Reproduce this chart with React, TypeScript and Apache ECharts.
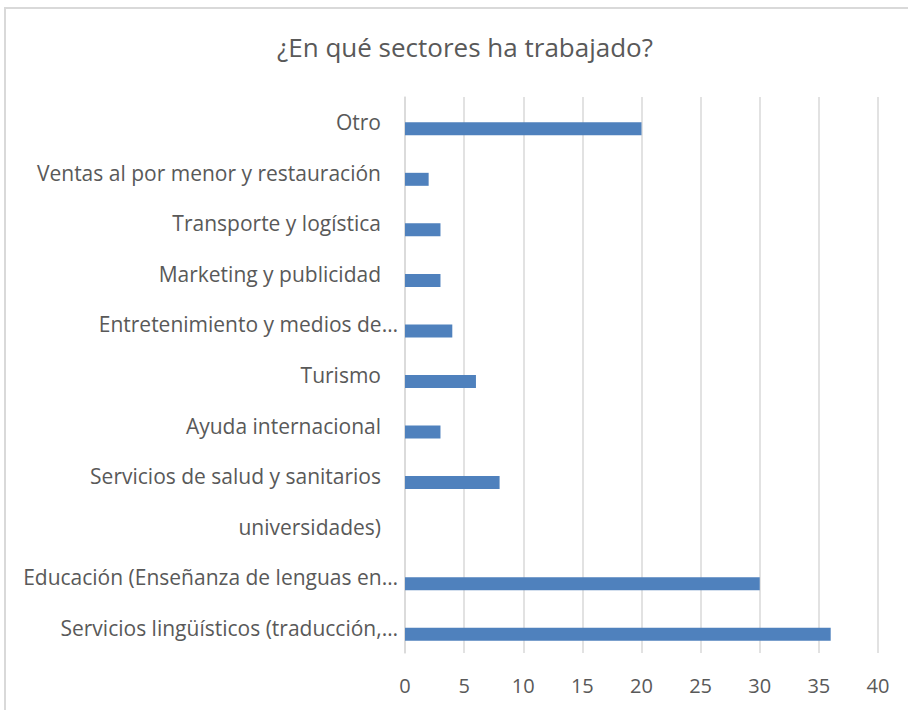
import React, { useEffect, useRef } from "react";
import * as echarts from "echarts";

const title = "¿En qué sectores ha trabajado?";
const categories = [
  "Servicios lingüísticos (traducción,…",
  "Educación (Enseñanza de lenguas en…",
  "universidades)",
  "Servicios de salud y sanitarios",
  "Ayuda internacional",
  "Turismo",
  "Entretenimiento y medios de…",
  "Marketing y publicidad",
  "Transporte y logística",
  "Ventas al por menor y restauración",
  "Otro",
];
const values = [36, 30, 0, 8, 3, 6, 4, 3, 3, 2, 20];
const emptySeries = [null, null, null, null, null, null, null, null, null, null, null];
const xTicks = { min: 0, max: 40, interval: 5 };

const FONT = "Open Sans";
const TEXT = "#595959";
const GRID = "#d9d9d9";

export default function App() {
  const ref = useRef<HTMLDivElement>(null);
  useEffect(() => {
    const chart = echarts.init(ref.current!, null, { renderer: "svg" });
    chart.setOption({
      animation: false,
      backgroundColor: "#ffffff",
      graphic: [
        {
          type: "rect",
          shape: { x: 5, y: 8, width: 940, height: 740 },
          style: { fill: "none", stroke: GRID, lineWidth: 2 },
          silent: true,
        },
        {
          type: "text",
          x: 465,
          y: 47,
          style: {
            text: title,
            fontFamily: FONT,
            fontSize: 26,
            fill: TEXT,
            align: "center",
            verticalAlign: "middle",
          },
          silent: true,
        },
      ],
      grid: { left: 405, right: 30, top: 97, bottom: 57, containLabel: false },
      xAxis: {
        type: "value",
        min: xTicks.min,
        max: xTicks.max,
        interval: xTicks.interval,
        axisLine: { show: false },
        axisTick: { show: false },
        splitLine: { show: true, lineStyle: { color: GRID, width: 1.5 } },
        axisLabel: { fontFamily: FONT, fontSize: 20, color: TEXT, margin: 22 },
      },
      yAxis: {
        type: "category",
        data: categories,
        axisLine: { show: true, lineStyle: { color: GRID, width: 1.5 } },
        axisTick: { show: false },
        axisLabel: {
          fontFamily: FONT,
          fontSize: 21,
          color: TEXT,
          margin: 7,
          formatter: (v: string) => (v.endsWith("…") ? `{b|${v}}` : `{a|${v}}`),
          rich: {
            a: { fontFamily: FONT, fontSize: 21, color: TEXT, padding: [0, 17, 0, 0] },
            b: { fontFamily: FONT, fontSize: 21, color: TEXT },
          },
        },
      },
      series: [
        {
          type: "bar",
          data: emptySeries,
          barWidth: 13,
          barGap: "0%",
          itemStyle: { color: "#c0504d" },
        },
        {
          type: "bar",
          data: values,
          barWidth: 13,
          barGap: "0%",
          itemStyle: { color: "#4f81bd" },
        },
      ],
    });
    return () => chart.dispose();
  }, []);
  return (
    <div
      ref={ref}
      style={{ position: "fixed", left: 0, top: 0, width: 908, height: 710 }}
    />
  );
}
